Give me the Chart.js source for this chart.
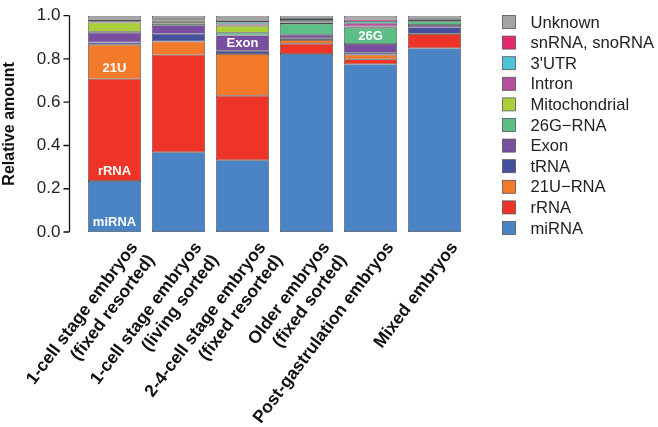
<!DOCTYPE html>
<html>
<head>
<meta charset="utf-8">
<script src="https://cdn.jsdelivr.net/npm/chart.js@4"></script>
<style>
  body { margin: 0; background: #fff; }
  #wrap { width: 658px; height: 427px; }
</style>
</head>
<body>
<div id="wrap"><canvas id="chart" width="658" height="427"></canvas></div>
<script>
// Sample groups (x axis), two-line labels
const categories = [
  ['1-cell stage embryos', '(fixed resorted)'],
  ['1-cell stage embryos', '(living sorted)'],
  ['2-4-cell stage embryos', '(fixed resorted)'],
  ['Older embryos', '(fixed sorted)'],
  ['Post-gastrulation embryos'],
  ['Mixed embryos']
];

// RNA classes, bottom of the stack first
const seriesNames = ['miRNA', 'rRNA', '21U\u2212RNA', 'tRNA', 'Exon', '26G\u2212RNA',
  'Mitochondrial', 'Intron', "3'UTR", 'snRNA, snoRNA', 'Unknown'];
const seriesColors = ['#4a84c4', '#ee3426', '#f47a2b', '#444f9e', '#794ea0', '#5cbf86',
  '#a9cf3a', '#b74f9f', '#4fc4d8', '#e8286e', '#a3a4a6'];

// relative amounts per group
const miRNA   = [0.236, 0.369, 0.332, 0.823, 0.776, 0.850];
const rRNA    = [0.472, 0.450, 0.298, 0.047, 0.023, 0.065];
const u21RNA  = [0.158, 0.062, 0.193, 0.018, 0.020, 0.002];
const tRNA    = [0.010, 0.035, 0.015, 0.008, 0.010, 0.030];
const exon    = [0.045, 0.040, 0.071, 0.016, 0.040, 0.010];
const g26RNA  = [0.005, 0.008, 0.012, 0.050, 0.075, 0.017];
const mito    = [0.042, 0.008, 0.032, 0.006, 0.006, 0.006];
const intron  = [0.004, 0.006, 0.008, 0.004, 0.015, 0.004];
const utr3    = [0.004, 0.006, 0.008, 0.008, 0.010, 0.004];
const snRNA   = [0.006, 0.004, 0.006, 0.005, 0.008, 0.002];
const unknown = [0.018, 0.012, 0.025, 0.015, 0.017, 0.010];

const seriesValues = [miRNA, rRNA, u21RNA, tRNA, exon, g26RNA, mito, intron, utr3, snRNA, unknown];

const yTicks = [0, 0.2, 0.4, 0.6, 0.8, 1.0];

// white labels written inside some segments: [series index, group index, text, where]
const segmentLabels = [
  [0, 0, 'miRNA', 'bottom'],
  [1, 0, 'rRNA', 'bottom'],
  [2, 0, '21U', 'bottom'],
  [4, 2, 'Exon', 'center'],
  [5, 4, '26G', 'center']
];

const FONT = '"Liberation Sans", Arial, Helvetica, sans-serif';

// detached y axis line + tick marks (R style)
const axisPlugin = {
  id: 'detachedAxis',
  afterDraw(chart) {
    const ctx = chart.ctx;
    const y = chart.scales.y;
    const x0 = chart.chartArea.left - 13;
    ctx.save();
    ctx.strokeStyle = '#111';
    ctx.lineWidth = 1.3;
    ctx.beginPath();
    ctx.moveTo(x0, y.getPixelForValue(yTicks[0]));
    ctx.lineTo(x0, y.getPixelForValue(yTicks[yTicks.length - 1]));
    yTicks.forEach(v => {
      const py = y.getPixelForValue(v);
      ctx.moveTo(x0, py);
      ctx.lineTo(x0 - 6, py);
    });
    ctx.stroke();
    ctx.restore();
  }
};

// text inside bar segments
const segmentLabelPlugin = {
  id: 'segmentLabels',
  afterDatasetsDraw(chart) {
    const ctx = chart.ctx;
    ctx.save();
    ctx.fillStyle = '#fff';
    ctx.font = 'bold 13px ' + FONT;
    ctx.textAlign = 'center';
    ctx.textBaseline = 'middle';
    segmentLabels.forEach(([si, gi, text, where]) => {
      const el = chart.getDatasetMeta(si).data[gi];
      const ty = where === 'bottom' ? el.base - 10 : (el.y + el.base) / 2;
      ctx.fillText(text, el.x, ty);
    });
    ctx.restore();
  }
};

// legend on the right, top series first
const legendPlugin = {
  id: 'sideLegend',
  afterDraw(chart) {
    const ctx = chart.ctx;
    const left = chart.chartArea.right + 36;
    const top = 22;
    const step = 20.6;
    ctx.save();
    ctx.font = '16.6px ' + FONT;
    ctx.textBaseline = 'middle';
    ctx.textAlign = 'left';
    const ds = chart.data.datasets.slice().reverse();
    ds.forEach((d, i) => {
      const cy = top + i * step;
      ctx.fillStyle = d.backgroundColor;
      ctx.fillRect(left, cy - 6.5, 13, 13);
      ctx.strokeStyle = '#555';
      ctx.lineWidth = 0.8;
      ctx.strokeRect(left, cy - 6.5, 13, 13);
      ctx.fillStyle = '#222';
      ctx.fillText(d.label, left + 28, cy + 1);
    });
    ctx.restore();
  }
};

const datasets = seriesNames.map((name, i) => ({
  label: name,
  data: seriesValues[i],
  backgroundColor: seriesColors[i],
  borderColor: 'rgba(40,40,40,0.85)',
  borderWidth: 0.7,
  borderSkipped: false
}));

new Chart(document.getElementById('chart'), {
  type: 'bar',
  data: { labels: categories, datasets: datasets },
  options: {
    responsive: false,
    animation: false,
    layout: { padding: { top: 15.7, right: 191.5, left: 0, bottom: 0 } },
    categoryPercentage: 0.828,
    barPercentage: 1.0,
    plugins: {
      legend: { display: false },
      tooltip: { enabled: false }
    },
    scales: {
      x: {
        stacked: true,
        grid: { display: false, drawTicks: false },
        border: { display: false },
        ticks: {
          color: '#111',
          font: { family: FONT, size: 17.5, weight: 'bold', lineHeight: 1.2 },
          maxRotation: 53,
          minRotation: 53,
          autoSkip: false,
          labelOffset: 20,
          padding: 6
        },
        afterFit(scale) {
          scale.height = 195;
          scale.paddingLeft = 0;
          scale.paddingRight = 0;
        }
      },
      y: {
        stacked: true,
        min: 0,
        max: 1,
        grid: { display: false, drawTicks: false },
        border: { display: false },
        ticks: {
          stepSize: 0.2,
          padding: 22,
          color: '#222',
          font: { family: FONT, size: 17 },
          callback: v => v.toFixed(1)
        },
        title: {
          display: true,
          text: 'Relative amount',
          color: '#111',
          font: { family: FONT, size: 16, weight: 'bold' },
          padding: { top: 0, bottom: 0 }
        },
        afterFit(scale) {
          scale.width = 82.5;
          scale.paddingTop = 0;
          scale.paddingBottom = 0;
        }
      }
    }
  },
  plugins: [axisPlugin, segmentLabelPlugin, legendPlugin]
});
</script>
</body>
</html>
